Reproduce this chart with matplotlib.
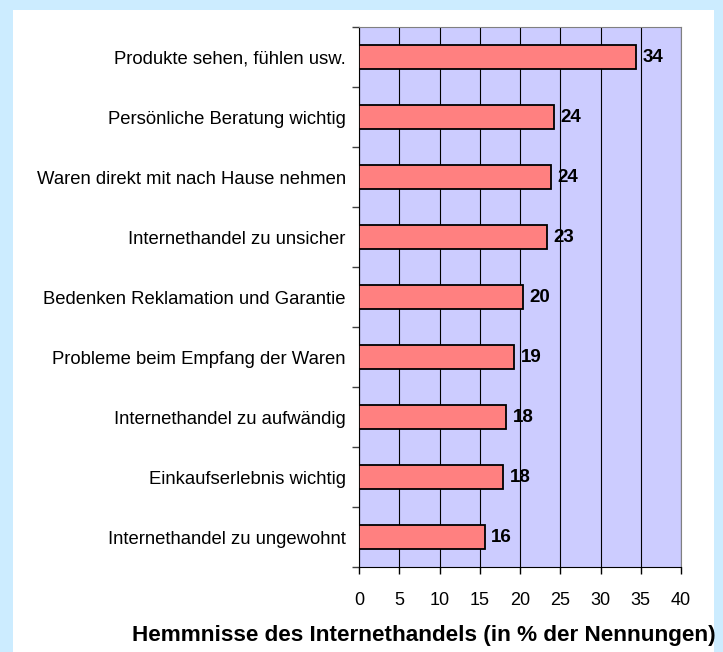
import matplotlib
matplotlib.use("Agg")
from matplotlib import pyplot as plt
from matplotlib.patches import Rectangle

categories = [
    "Produkte sehen, fühlen usw.",
    "Persönliche Beratung wichtig",
    "Waren direkt mit nach Hause nehmen",
    "Internethandel zu unsicher",
    "Bedenken Reklamation und Garantie",
    "Probleme beim Empfang der Waren",
    "Internethandel zu aufwändig",
    "Einkaufserlebnis wichtig",
    "Internethandel zu ungewohnt",
]
values = [34.4, 24.2, 23.8, 23.4, 20.4, 19.3, 18.3, 17.9, 15.6]
value_labels = ["34", "24", "24", "23", "20", "19", "18", "18", "16"]
xticks = [0, 5, 10, 15, 20, 25, 30, 35, 40]
title = "Hemmnisse des Internethandels (in % der Nennungen)"

plt.rcParams['font.family'] = ['Liberation Sans', 'DejaVu Sans']

fig = plt.figure(figsize=(7.23, 6.52), dpi=100, facecolor='#CCECFF')
# white panel behind everything
fig.patches.append(Rectangle((13 / 723, 0), (714 - 13) / 723, (652 - 10) / 652,
                             transform=fig.transFigure, facecolor='white',
                             edgecolor='none', zorder=-10))

ax = fig.add_axes([359 / 723, 85 / 652, 322 / 723, 540 / 652])
ax.set_zorder(5)
ax.set_facecolor('#CCCCFF')

n = len(categories)
ypos = list(range(n))
ax.barh(ypos, values, height=0.4, color='#FF8080', edgecolor='black',
        linewidth=1.3, zorder=3)
for y, v, lab in zip(ypos, values, value_labels):
    ax.text(v + 0.8, y, lab, va='center', ha='left', fontsize=13.5,
            fontweight='bold', zorder=4)

ax.set_xlim(0, 40)
ax.set_ylim(n - 0.5, -0.5)
ax.set_xticks(xticks)
ax.set_xticklabels([str(t) for t in xticks], fontsize=13)
ax.tick_params(axis='x', direction='out', length=5, width=1, color='black',
               pad=13)
ax.set_yticks([i - 0.5 for i in range(n + 1)])
ax.set_yticklabels([])
ax.set_yticks(ypos, minor=True)
ax.set_yticklabels(categories, minor=True, fontsize=13.3)
ax.tick_params(axis='y', which='major', direction='out', length=5, width=1,
               color='#404040')
ax.tick_params(axis='y', which='minor', length=0, pad=9.5)

ax.grid(axis='x', color='black', linewidth=0.8, zorder=1)
for side in ['top', 'right']:
    ax.spines[side].set_color('#808080')
ax.spines['left'].set_color('black')
ax.spines['bottom'].set_color('black')

fig.text(424 / 723, 1 - 636 / 652, title, ha='center',
         va='center', fontsize=16.2, fontweight='bold', zorder=6)

fig.savefig('out.png', dpi=100, facecolor=fig.get_facecolor())
